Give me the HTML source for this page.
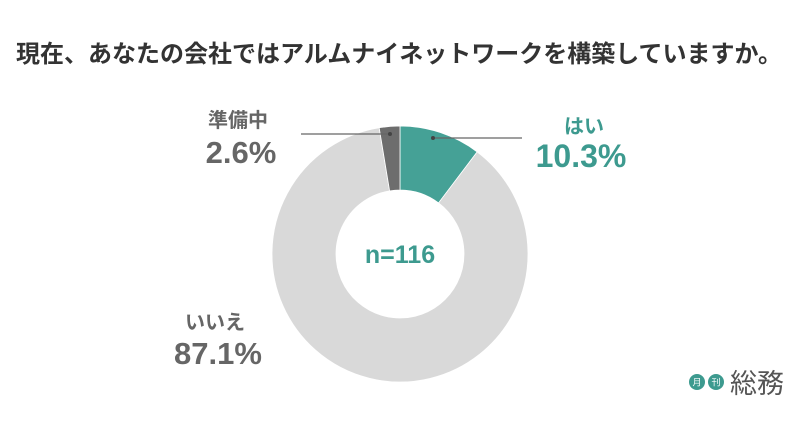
<!DOCTYPE html>
<html><head><meta charset="utf-8"><style>
body{margin:0;width:800px;height:419px;background:#fff;overflow:hidden;font-family:"Liberation Sans","Noto Sans CJK JP",sans-serif}
</style></head><body>
<svg width="800" height="419" viewBox="0 0 800 419" xmlns="http://www.w3.org/2000/svg">
<text x="399" y="62" text-anchor="middle" font-size="24" font-weight="bold" fill="#333" font-family="Liberation Sans, Noto Sans CJK JP, sans-serif">現在、あなたの会社ではアルムナイネットワークを構築していますか。</text>
<g id="slices"></g>
<text x="400" y="263" text-anchor="middle" font-size="25" font-weight="bold" fill="#3d9a8f" font-family="Liberation Sans, sans-serif">n=116</text>
<line x1="301" y1="134" x2="390" y2="134" stroke="#666" stroke-width="1.2"/>
<circle cx="390" cy="134" r="2" fill="#444"/>
<line x1="433" y1="138" x2="522" y2="138" stroke="#666" stroke-width="1.2"/>
<circle cx="433" cy="138" r="2" fill="#444"/>
<text x="238" y="127" text-anchor="middle" font-size="20" font-weight="bold" fill="#666" font-family="Liberation Sans, Noto Sans CJK JP, sans-serif">準備中</text>
<text x="241" y="163" text-anchor="middle" font-size="31" font-weight="bold" fill="#666">2.6%</text>
<text x="584" y="133" text-anchor="middle" font-size="20" font-weight="bold" fill="#3d9a8f" font-family="Liberation Sans, Noto Sans CJK JP, sans-serif">はい</text>
<text x="581" y="167" text-anchor="middle" font-size="32" font-weight="bold" fill="#3d9a8f">10.3%</text>
<text x="215" y="329" text-anchor="middle" font-size="20" font-weight="bold" fill="#666" font-family="Liberation Sans, Noto Sans CJK JP, sans-serif">いいえ</text>
<text x="218" y="364" text-anchor="middle" font-size="31" font-weight="bold" fill="#666">87.1%</text>
<g>
<circle cx="697" cy="382" r="8" fill="#3d9a8f"/>
<circle cx="716" cy="382" r="8" fill="#3d9a8f"/>
<text x="697" y="385.5" text-anchor="middle" font-size="9" fill="#fff" font-family="Noto Sans CJK JP, sans-serif">月</text>
<text x="716" y="385.5" text-anchor="middle" font-size="9" fill="#fff" font-family="Noto Sans CJK JP, sans-serif">刊</text>
<text x="757" y="393" text-anchor="middle" font-size="27" fill="#555" font-family="Noto Sans CJK JP, sans-serif">総務</text>
</g>
</svg>
<script>
const categories=["はい","いいえ","準備中"];
const values=[10.3,87.1,2.6];
const colors=["#45a196","#d9d9d9","#6d6d6d"];
const cx=400,cy=254,R=128,r=64;
const g=document.getElementById('slices');
const total=values.reduce((a,b)=>a+b,0);
let a0=0;
function pt(rad,a){return [cx+rad*Math.sin(a),cy-rad*Math.cos(a)];}
values.forEach((v,i)=>{
  const a1=a0+v/total*2*Math.PI;
  const big=(a1-a0)>Math.PI?1:0;
  const [x1,y1]=pt(R,a0),[x2,y2]=pt(R,a1),[x3,y3]=pt(r,a1),[x4,y4]=pt(r,a0);
  const p=document.createElementNS('http://www.w3.org/2000/svg','path');
  p.setAttribute('d',`M${x1},${y1}A${R},${R} 0 ${big} 1 ${x2},${y2}L${x3},${y3}A${r},${r} 0 ${big} 0 ${x4},${y4}Z`);
  p.setAttribute('fill',colors[i]);
  p.setAttribute('stroke','#fff');
  p.setAttribute('stroke-width','0.8');
  
  
  g.appendChild(p);
  a0=a1;
});
</script>
</body></html>
